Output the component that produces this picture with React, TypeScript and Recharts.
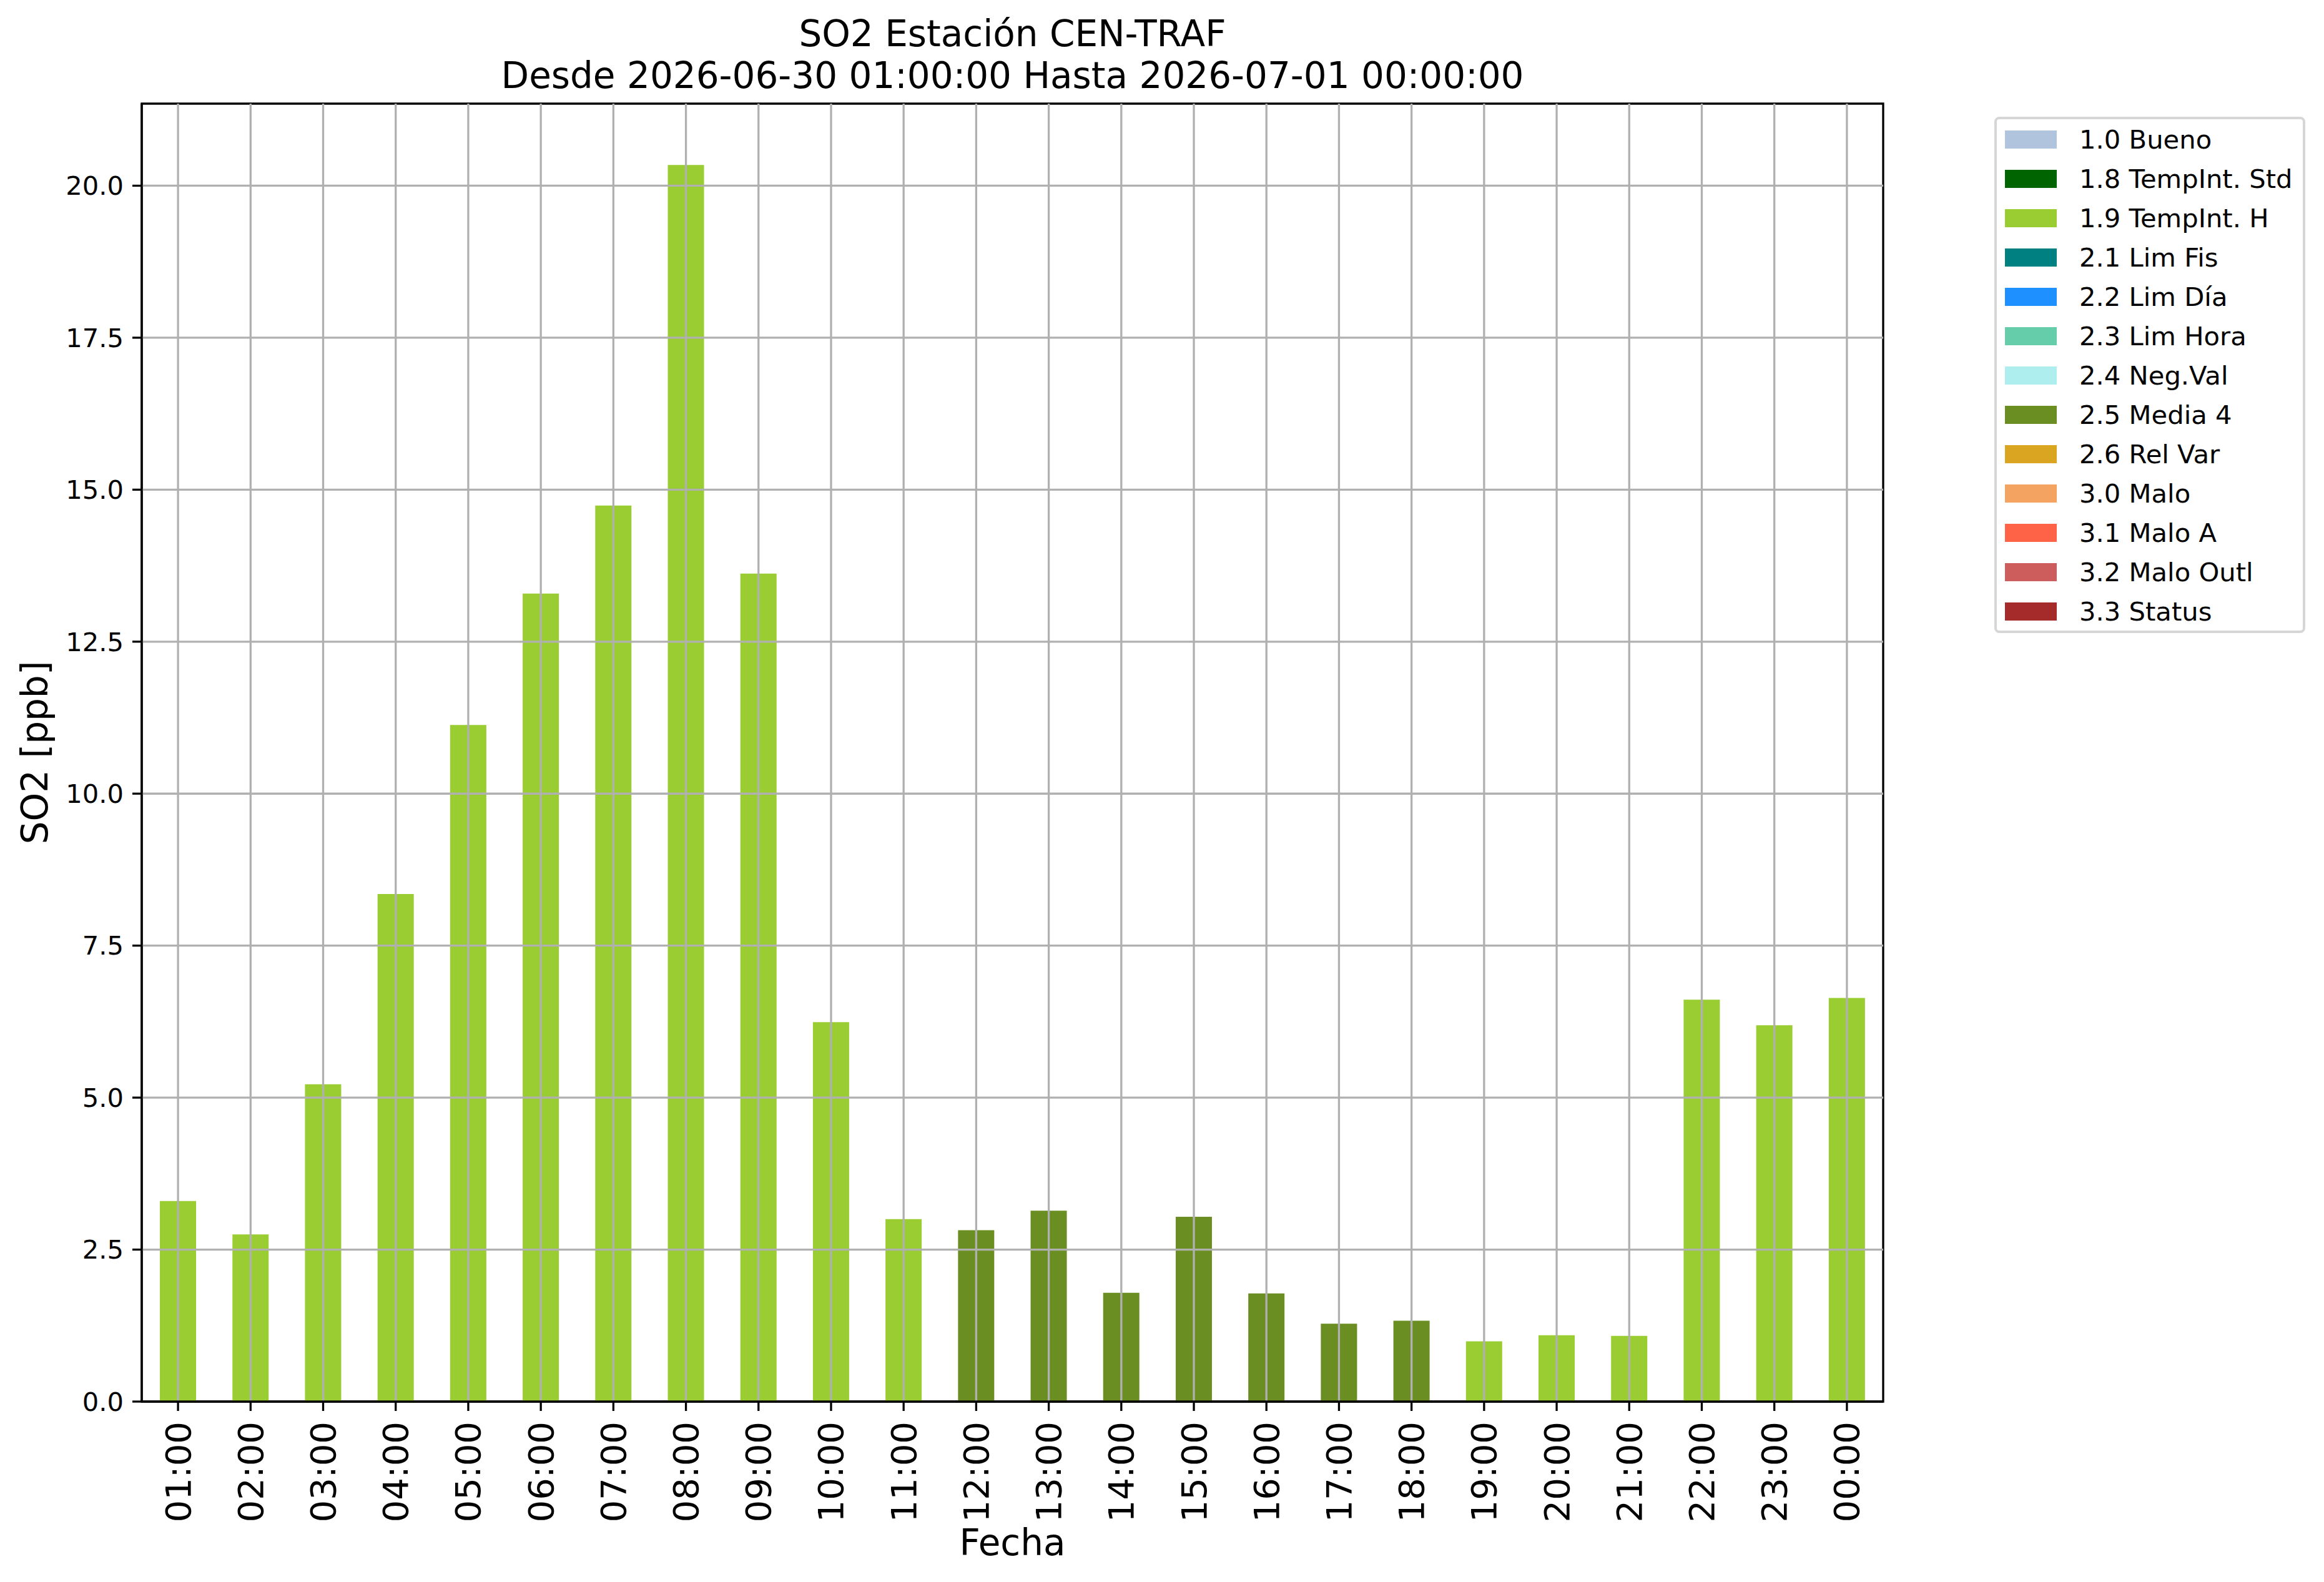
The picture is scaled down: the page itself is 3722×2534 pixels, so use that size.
import React from 'react';
import { BarChart, Bar, XAxis, YAxis, ReferenceLine, ReferenceArea, Label } from 'recharts';

// hourly SO2 values, 2026-06-30 01:00 .. 2026-07-01 00:00
const hours = [
  '01:00', '02:00', '03:00', '04:00', '05:00', '06:00', '07:00', '08:00',
  '09:00', '10:00', '11:00', '12:00', '13:00', '14:00', '15:00', '16:00',
  '17:00', '18:00', '19:00', '20:00', '21:00', '22:00', '23:00', '00:00',
];
const so2Values = [
  3.30, 2.75, 5.22, 8.35, 11.13, 13.29, 14.74, 20.34,
  13.62, 6.24, 3.00, 2.82, 3.14, 1.79, 3.04, 1.78,
  1.28, 1.33, 0.99, 1.09, 1.08, 6.61, 6.19, 6.64,
];
// quality flag of each hour
const qualityFlags = [
  '1.9', '1.9', '1.9', '1.9', '1.9', '1.9', '1.9', '1.9',
  '1.9', '1.9', '1.9', '2.5', '2.5', '2.5', '2.5', '2.5',
  '2.5', '2.5', '1.9', '1.9', '1.9', '1.9', '1.9', '1.9',
];
const yTicks = [0, 2.5, 5, 7.5, 10, 12.5, 15, 17.5, 20];

const legendLabels = [
  '1.0 Bueno', '1.8 TempInt. Std', '1.9 TempInt. H', '2.1 Lim Fis', '2.2 Lim Día',
  '2.3 Lim Hora', '2.4 Neg.Val', '2.5 Media 4', '2.6 Rel Var', '3.0 Malo',
  '3.1 Malo A', '3.2 Malo Outl', '3.3 Status',
];
const legendColors = [
  '#B0C4DE', '#006400', '#9ACD32', '#008080', '#1E90FF',
  '#66CDAA', '#AFEEEE', '#6B8E23', '#DAA520', '#F4A460',
  '#FF6347', '#CD5C5C', '#A52A2A',
];

const Y_MAX = 21.35;
const FONT = '"DejaVu Sans", sans-serif';
const GRID = '#b0b0b0';
const LW = 3.3;

const data = hours.map((hour, i) => ({
  hour,
  tempH: qualityFlags[i] === '1.9' ? so2Values[i] : 0,
  media4: qualityFlags[i] === '2.5' ? so2Values[i] : 0,
}));

const HourTick = ({ x, y, payload }: { x?: number; y?: number; payload?: { value: string } }) => (
  <g transform={`translate(${x},${y})`}>
    <text
      transform="rotate(-90)"
      textAnchor="end"
      dominantBaseline="central"
      fontFamily={FONT}
      fontSize={56}
      fill="#000"
    >
      {payload?.value}
    </text>
  </g>
);

export default function App() {
  return (
    <div style={{ position: 'absolute', left: 0, top: 0, width: 3722, height: 2534, background: '#fff', fontFamily: FONT }}>
      <div
        style={{
          position: 'absolute', left: 227, top: 21, width: 2789,
          textAlign: 'center', fontSize: 58, lineHeight: '67px', color: '#000',
        }}
      >
        <div>SO2 Estación CEN-TRAF</div>
        <div>Desde 2026-06-30 01:00:00 Hasta 2026-07-01 00:00:00</div>
      </div>

      <BarChart
        width={3722}
        height={2534}
        data={data}
        margin={{ top: 166, right: 706, bottom: 0, left: 0 }}
        barCategoryGap="25%"
      >
        <XAxis
          dataKey="hour"
          interval={0}
          height={289}
          tick={<HourTick />}
          tickSize={15}
          tickMargin={17}
          tickLine={{ stroke: '#000', strokeWidth: LW }}
          axisLine={{ stroke: '#000', strokeWidth: LW }}
        >
          <Label
            content={({ viewBox }: any) => (
              <text
                x={viewBox.x + viewBox.width / 2}
                y={2491}
                textAnchor="middle"
                fontFamily={FONT}
                fontSize={58}
                fill="#000"
              >
                Fecha
              </text>
            )}
          />
        </XAxis>
        <YAxis
          width={227}
          domain={[0, Y_MAX]}
          ticks={yTicks}
          allowDataOverflow
          tickFormatter={(v: number) => v.toFixed(1)}
          tick={{ fontFamily: FONT, fontSize: 41.7, fill: '#000' }}
          tickSize={15}
          tickMargin={14}
          tickLine={{ stroke: '#000', strokeWidth: LW }}
          axisLine={{ stroke: '#000', strokeWidth: LW }}
        >
          <Label
            content={({ viewBox }: any) => {
              const cx = 56;
              const cy = viewBox.y + viewBox.height / 2;
              return (
                <text
                  x={cx}
                  y={cy}
                  transform={`rotate(-90, ${cx}, ${cy})`}
                  textAnchor="middle"
                  dominantBaseline="central"
                  fontFamily={FONT}
                  fontSize={58}
                  fill="#000"
                >
                  SO2 [ppb]
                </text>
              );
            }}
          />
        </YAxis>

        <Bar dataKey="tempH" stackId="q" fill={legendColors[2]} isAnimationActive={false} />
        <Bar dataKey="media4" stackId="q" fill={legendColors[7]} isAnimationActive={false} />

        {yTicks.filter((t) => t > 0).map((t) => (
          <ReferenceLine key={`gy-${t}`} y={t} stroke={GRID} strokeWidth={LW} />
        ))}
        {hours.map((h) => (
          <ReferenceLine key={`gx-${h}`} x={h} stroke={GRID} strokeWidth={LW} />
        ))}

        <ReferenceArea
          x1={hours[0]}
          x2={hours[hours.length - 1]}
          y1={0}
          y2={Y_MAX}
          fill="none"
          fillOpacity={0}
          stroke="#000"
          strokeWidth={LW}
          strokeOpacity={1}
        />
      </BarChart>

      <div
        style={{
          position: 'absolute', left: 3194, top: 187, width: 498, height: 827,
          boxSizing: 'border-box', border: '4px solid #d6d6d6', borderRadius: 8,
          background: '#fff', paddingTop: 1,
        }}
      >
        {legendLabels.map((label, i) => (
          <div key={label} style={{ display: 'flex', alignItems: 'center', height: 63 }}>
            <span style={{ display: 'inline-block', marginLeft: 13, width: 83, height: 29, background: legendColors[i] }} />
            <span style={{ marginLeft: 36, fontSize: 41.7, color: '#000', whiteSpace: 'nowrap' }}>{label}</span>
          </div>
        ))}
      </div>
    </div>
  );
}
